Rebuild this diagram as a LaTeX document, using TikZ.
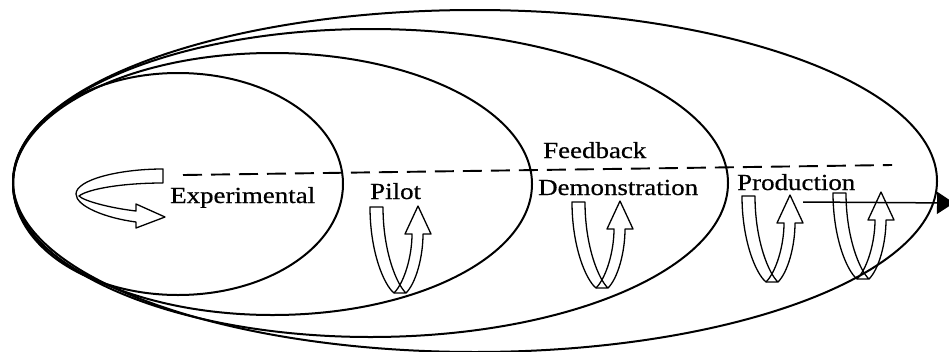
\documentclass[tikz,border=0pt]{standalone}
\usepackage{fontspec}
\setmainfont{Liberation Serif}[FakeStretch=1.17,FakeBold=0.6]
\usetikzlibrary{arrows.meta}
\begin{document}
\begin{tikzpicture}[x=1pt,y=-1pt,
  ring/.style={line width=2pt},
  feedback/.style={line width=1.9pt, dash pattern=on 19pt off 9pt},
  band/.style={line width=1.3pt, line join=round},
  lbl/.style={anchor=base west, inner sep=0pt, font=\fontsize{23}{23}\selectfont},
  uturn/.pic={
    \draw[band] (0,0) -- (13,0) .. controls (13,45) and (27,78) .. (36,86)
      -- (24,86) .. controls (14,78) and (0,45) .. (0,0) -- cycle;
    \draw[band] (24,86) .. controls (34,76) and (42,50) .. (42,27) -- (35,27)
      -- (48,-1) -- (61,27) -- (53,27) .. controls (53,50) and (46,76) .. (36,86);
  }]
\useasboundingbox (0,0) rectangle (949,351);
% nested ellipses
\draw[ring] (178,184) ellipse [x radius=165pt, y radius=111pt];
\draw[ring] (272.5,184) ellipse [x radius=259.5pt, y radius=131pt];
\draw[ring] (370.5,183) ellipse [x radius=357.5pt, y radius=154pt];
\draw[ring] (475,181) ellipse [x radius=462pt, y radius=171pt];
% feedback dashed line
\coordinate (fbL) at (183,175);
\coordinate (fbR) at (892,165);
\draw[feedback] (fbL) -- (fbR);
% labels
\node[lbl] (exp) at (170,203) {Experimental};
\node[lbl] (pilot) at (370,199) {Pilot};
\node[lbl] (fb) at (543,158) {Feedback};
\node[lbl] (demo) at (538,195) {Demonstration};
\node[lbl] (prod) at (737,190) {Production};
% experimental loop arrow
\draw[band] (163,183) -- (163,169) .. controls (118,169) and (76,180) .. (76,194)
  .. controls (76,206) and (105,218) .. (136,222) -- (136,228) -- (165,217)
  -- (136,204) -- (136,211) .. controls (110,208) and (84,201) .. (79,196)
  .. controls (88,189) and (122,183) .. (163,183) -- cycle;
% u-turn arrows
\pic at (370,207) {uturn};
\pic at (572,202) {uturn};
\pic at (742,196) {uturn};
\pic at (833,193) {uturn};
% output arrow
\coordinate (outS) at (803,202);
\coordinate (outE) at (954,203);
\draw[line width=1.5pt, -{Triangle[length=17pt,width=22pt]}] (outS) -- (outE);
\end{tikzpicture}
\end{document}
